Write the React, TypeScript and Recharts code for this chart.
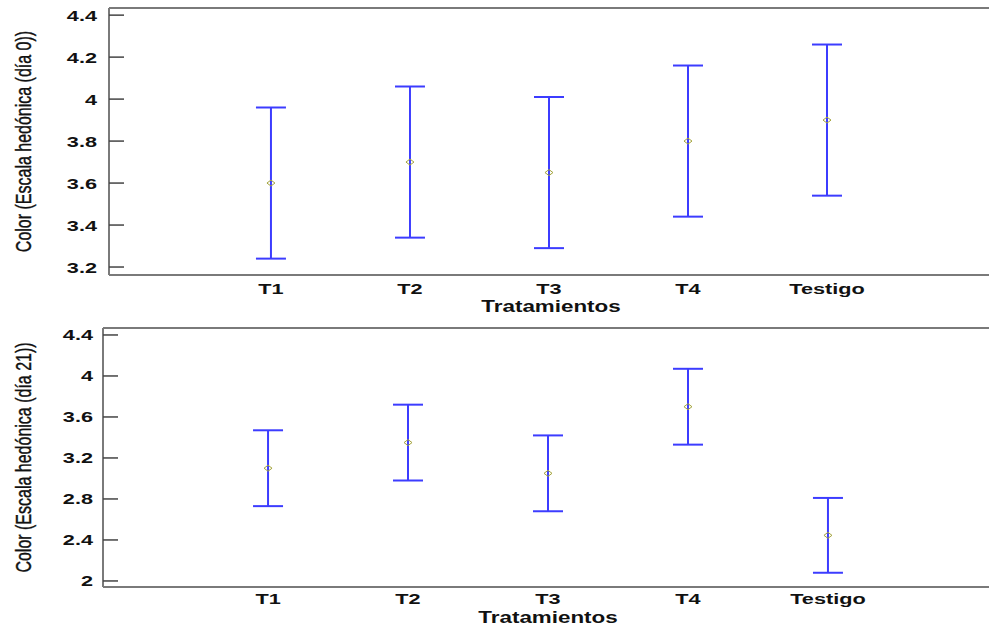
import React from 'react';
import { ComposedChart, Scatter, ErrorBar, XAxis, YAxis, ReferenceLine } from 'recharts';

// Tratamientos y valores (media ± intervalo)
const categories = ['T1', 'T2', 'T3', 'T4', 'Testigo'];
const day0Mean = [3.6, 3.7, 3.65, 3.8, 3.9];
const day0Err = [0.36, 0.36, 0.36, 0.36, 0.36];
const day21Mean = [3.1, 3.35, 3.05, 3.7, 2.445];
const day21Err = [0.37, 0.37, 0.37, 0.37, 0.365];
const day0Ticks = [3.2, 3.4, 3.6, 3.8, 4, 4.2, 4.4];
const day21Ticks = [2, 2.4, 2.8, 3.2, 3.6, 4, 4.4];

const BORDER = '#7a7a7a';
const TICK = '#444';
const BLUE = '#3c3cff';
const OLIVE = '#a3a33a';
const FONT = '"Liberation Sans", Arial, sans-serif';
// the source image is stretched sideways, so glyphs are widened
const STRETCH = 1.4;

const build = (mean: number[], err: number[]) =>
  categories.map((c, i) => ({ x: i + 1, name: c, y: mean[i], err: err[i] }));

const Diamond = (props: any) => {
  const { cx, cy } = props;
  if (cx == null || cy == null) return null;
  return (
    <path
      d={`M${cx},${cy - 3}L${cx + 4},${cy}L${cx},${cy + 3}L${cx - 4},${cy}Z`}
      fill="none"
      stroke={OLIVE}
      strokeWidth={1}
    />
  );
};

const XTick = (p: any) => (
  <text
    transform={`translate(${p.x},${p.y}) scale(${STRETCH},1)`}
    textAnchor="middle"
    dy="0.71em"
    fill="#111"
    fontSize={15.5}
    fontWeight={700}
    fontFamily={FONT}
  >
    {categories[p.payload.value - 1]}
  </text>
);

const YTick = (p: any) => (
  <text
    transform={`translate(${p.x},${p.y}) scale(${STRETCH},1)`}
    textAnchor="end"
    dy="0.355em"
    fill="#111"
    fontSize={15.5}
    fontWeight={700}
    fontFamily={FONT}
  >
    {p.payload.value}
  </text>
);

function Panel({
  data,
  yDomain,
  yTicks,
  xDomain,
  yTitle,
  axisWidth,
  labelGap,
  top,
  titleDrop,
  xTickMargin,
}: {
  data: Array<{ x: number; name: string; y: number; err: number }>;
  yDomain: [number, number];
  yTicks: number[];
  xDomain: [number, number];
  yTitle: string;
  axisWidth: number;
  labelGap: number;
  top: number;
  titleDrop: number;
  xTickMargin: number;
}) {
  return (
    <ComposedChart
      width={1000}
      height={316}
      data={data}
      margin={{ top, right: 7, bottom: 4, left: 0 }}
    >
      <XAxis
        type="number"
        dataKey="x"
        domain={xDomain}
        allowDataOverflow
        ticks={[1, 2, 3, 4, 5]}
        interval={0}
        height={37}
        tickLine={false}
        tickMargin={xTickMargin}
        axisLine={{ stroke: BORDER, strokeWidth: 2 }}
        tick={XTick}
        label={{
          content: (p: any) => {
            const vb = p.viewBox;
            const cx = vb.x + vb.width / 2;
            const by = vb.y + titleDrop;
            return (
              <text
                transform={`translate(${cx},${by}) scale(${STRETCH},1)`}
                textAnchor="middle"
                fill="#111"
                fontSize={16}
                fontWeight={700}
                fontFamily={FONT}
              >
                Tratamientos
              </text>
            );
          },
        }}
      />
      <YAxis
        type="number"
        dataKey="y"
        domain={yDomain}
        allowDataOverflow
        ticks={yTicks}
        interval={0}
        width={axisWidth}
        tickSize={-15}
        tickMargin={15 + labelGap}
        axisLine={{ stroke: BORDER, strokeWidth: 2 }}
        tickLine={{ stroke: TICK, strokeWidth: 1.5 }}
        tick={YTick}
        label={{
          content: (p: any) => {
            const vb = p.viewBox;
            const cy = vb.y + vb.height / 2;
            return (
              <text
                transform={`translate(23,${cy}) rotate(-90) scale(1,${STRETCH})`}
                textAnchor="middle"
                dominantBaseline="central"
                fill="#111"
                fontSize={16}
                fontFamily={FONT}
                stroke="#111"
                strokeWidth={0.3}
              >
                {yTitle}
              </text>
            );
          },
        }}
      />
      <YAxis
        yAxisId="right"
        orientation="right"
        type="number"
        domain={yDomain}
        allowDataOverflow
        ticks={yTicks}
        interval={0}
        width={0}
        tickSize={-15}
        tick={false}
        axisLine={{ stroke: BORDER, strokeWidth: 2 }}
        tickLine={{ stroke: TICK, strokeWidth: 1.5 }}
      />
      <ReferenceLine y={yDomain[1]} stroke={BORDER} strokeWidth={2} ifOverflow="extendDomain" />
      <Scatter dataKey="y" shape={Diamond} isAnimationActive={false}>
        <ErrorBar
          dataKey="err"
          direction="y"
          width={15}
          stroke={BLUE}
          strokeWidth={2}
          isAnimationActive={false}
        />
      </Scatter>
    </ComposedChart>
  );
}

export default function App() {
  return (
    <div
      style={{
        position: 'absolute',
        left: 0,
        top: 0,
        width: 989,
        height: 624,
        overflow: 'hidden',
        background: '#fff',
      }}
    >
      <div style={{ position: 'absolute', left: 0, top: 0 }}>
        <Panel
          data={build(day0Mean, day0Err)}
          yDomain={[3.162, 4.434]}
          yTicks={day0Ticks}
          xDomain={[-0.165, 6.194]}
          yTitle="Color (Escala hedónica (día 0))"
          axisWidth={109}
          labelGap={12}
          top={8}
          titleDrop={36.5}
          xTickMargin={2}
        />
      </div>
      <div style={{ position: 'absolute', left: 0, top: 312 }}>
        <Panel
          data={build(day21Mean, day21Err)}
          yDomain={[1.941, 4.468]}
          yTicks={day21Ticks}
          xDomain={[-0.179, 6.179]}
          yTitle="Color (Escala hedónica (día 21))"
          axisWidth={103}
          labelGap={10}
          top={16}
          titleDrop={35.5}
          xTickMargin={0}
        />
      </div>
    </div>
  );
}
